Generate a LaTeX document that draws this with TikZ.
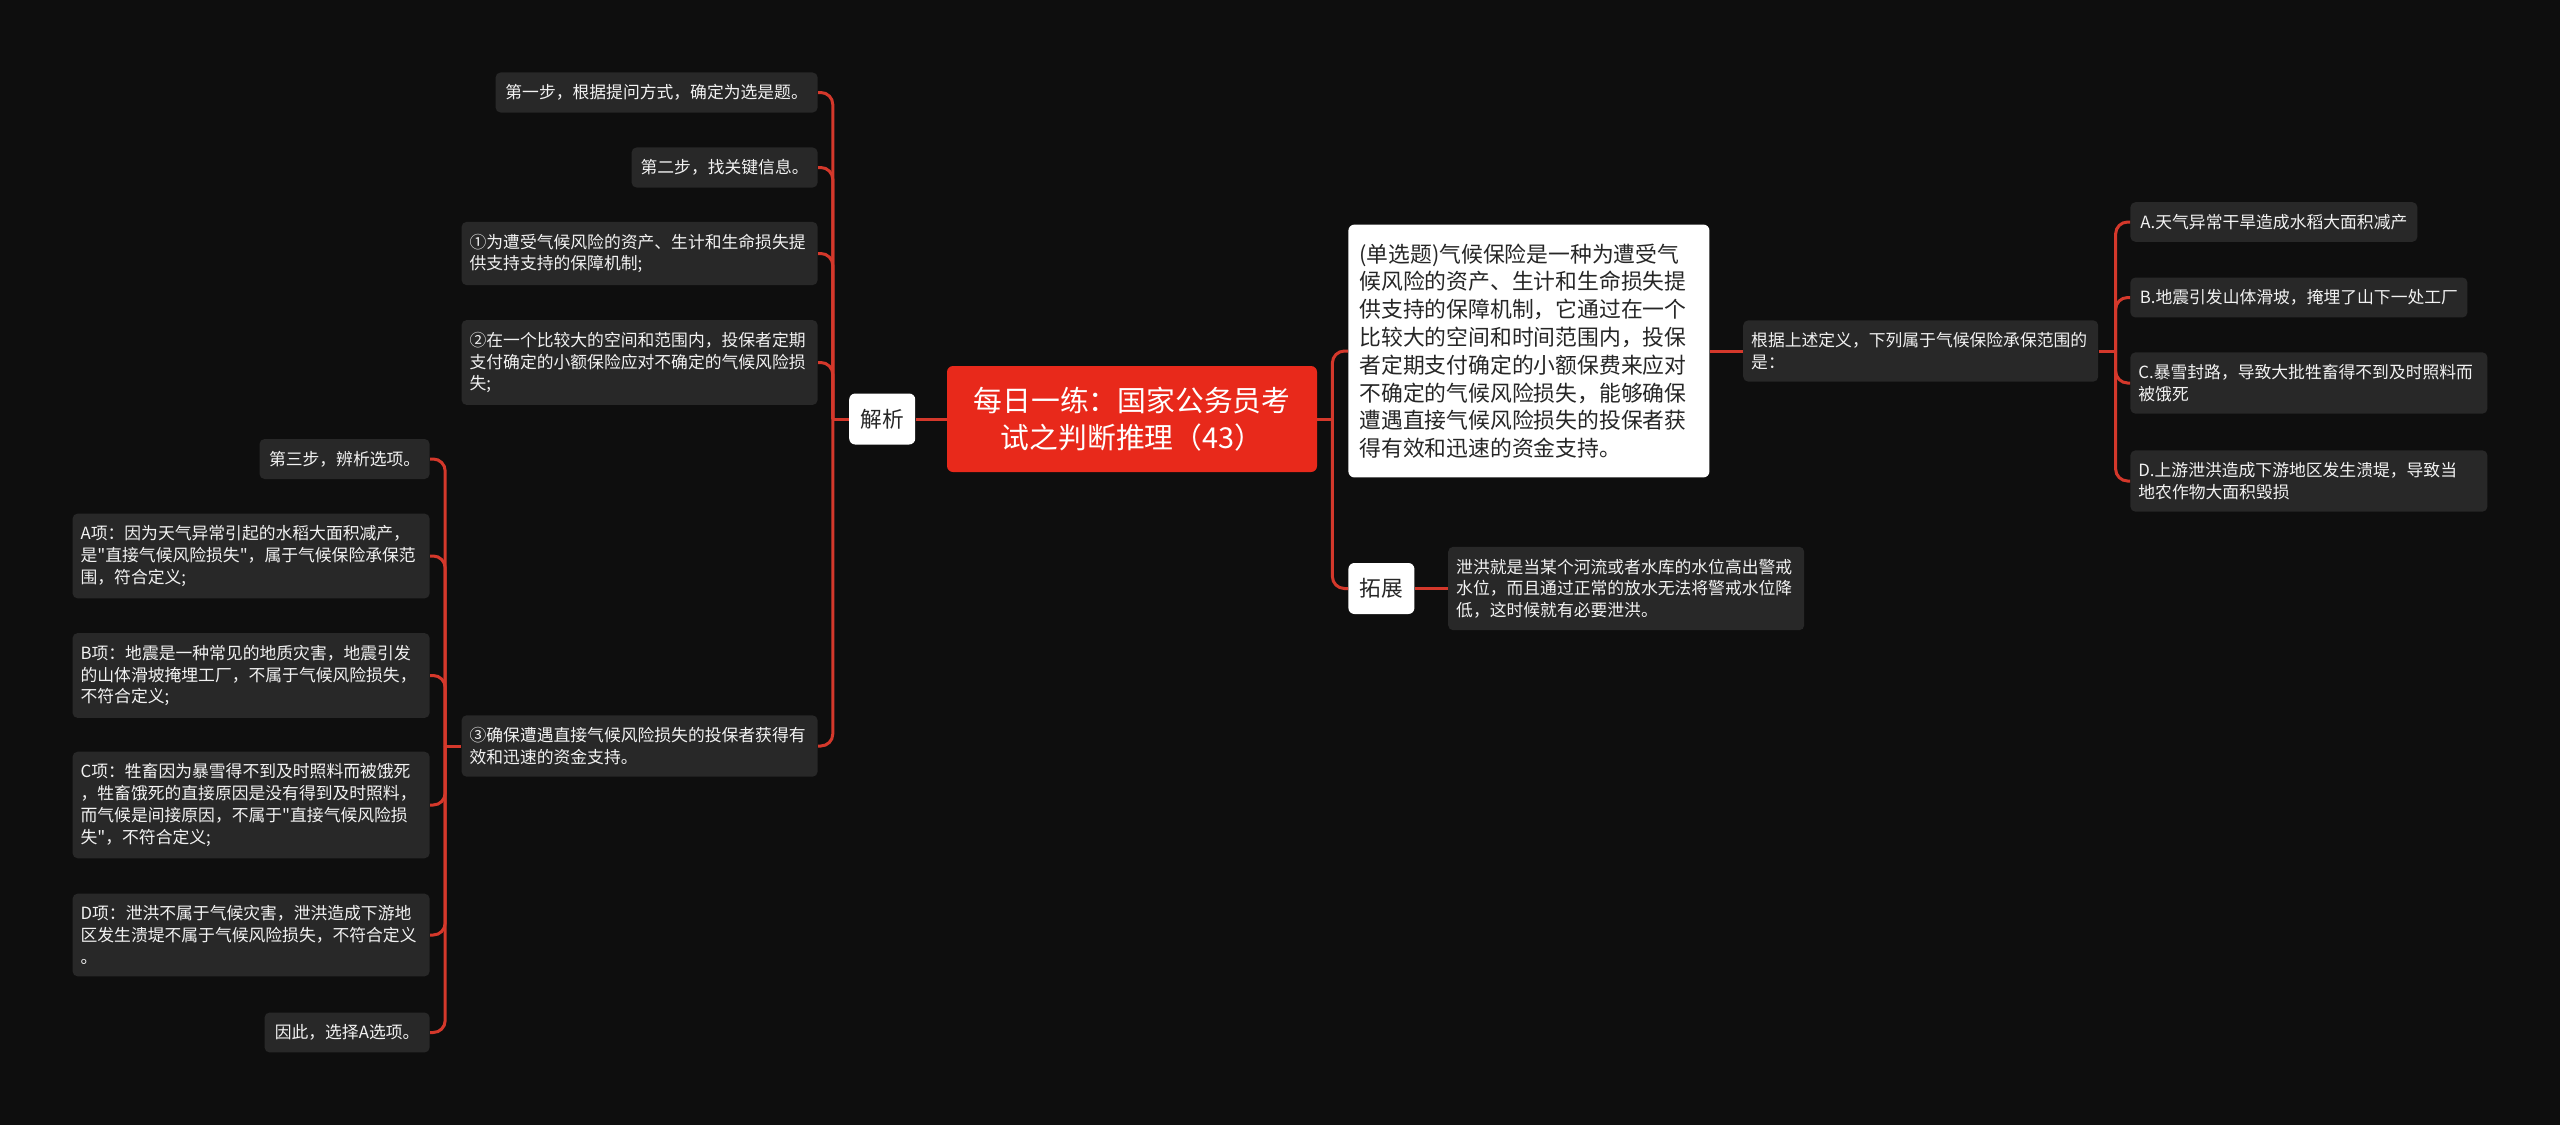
\documentclass[tikz,border=0pt]{standalone}
\usepackage{fontspec}
\setmainfont{Noto Sans CJK SC}[Ligatures=TeXOff]
\usetikzlibrary{positioning}
\definecolor{bgdark}{HTML}{0E0E0E}
\definecolor{leafgray}{HTML}{282828}
\definecolor{leafink}{HTML}{F2F2F2}
\definecolor{rootred}{HTML}{E8291B}
\definecolor{linkred}{HTML}{D4382B}
\definecolor{tagink}{HTML}{262626}

\begin{document}
\begin{tikzpicture}[
    x=0.5pt, y=-0.5pt,
    leaf/.style={fill=leafgray, text=leafink, rounded corners=2.5pt, inner xsep=4pt, inner ysep=6pt, align=left, font=\fontsize{8.4}{10.85}\selectfont},
    topic/.style={fill=rootred, text=white, rounded corners=3pt, minimum width=185pt, minimum height=53pt, align=center, font=\fontsize{14.4}{18.5}\selectfont},
    tag/.style={fill=white, text=tagink, rounded corners=3pt, minimum width=33pt, minimum height=25.5pt, inner sep=0pt, font=\fontsize{10.85}{13}\selectfont},
    stem/.style={fill=white, text=tagink, rounded corners=3pt, inner xsep=5.5pt, inner ysep=9.5pt, text width=169.5pt, align=left, font=\fontsize{10.9}{13.9}\selectfont},
    link/.style={draw=linkred, line width=1.5pt, rounded corners=6pt}
]
\useasboundingbox (0,0) rectangle (2560,1125);
\fill[bgdark] (0,0) rectangle (2560,1125);

% Title
\node[topic] (title) at (1132,419) {每日一练：国家公务员考\\试之判断推理（43）};

% Analysis branch
\node[tag, left=15.5pt of title] (parse) {解析};
\node[leaf, anchor=east, minimum width=161pt] (step1) at (818,92.5) {第一步，根据提问方式，确定为选是题。};
\node[leaf, anchor=east, minimum width=93pt] (step2) at (818,167.5) {第二步，找关键信息。};
\node[leaf, anchor=east, text width=170pt] (key1) at (818,253.5) {①为遭受气候风险的资产、生计和生命损失提\\供支持支持的保障机制;};
\node[leaf, anchor=east, text width=170pt] (key2) at (818,362.5) {②在一个比较大的空间和范围内，投保者定期\\支付确定的小额保险应对不确定的气候风险损\\失;};
\node[leaf, anchor=east, text width=170pt] (key3) at (818,746) {③确保遭遇直接气候风险损失的投保者获得有\\效和迅速的资金支持。};

% Options under key 3
\node[leaf, anchor=east, minimum width=85pt] (step3) at (430,459) {第三步，辨析选项。};
\node[leaf, anchor=east, text width=170.5pt] (optA) at (430,556) {A项：因为天气异常引起的水稻大面积减产，\\是"直接气候风险损失"，属于气候保险承保范\\围，符合定义;};
\node[leaf, anchor=east, text width=170.5pt] (optB) at (430,675.5) {B项：地震是一种常见的地质灾害，地震引发\\的山体滑坡掩埋工厂，不属于气候风险损失，\\不符合定义;};
\node[leaf, anchor=east, text width=170.5pt] (optC) at (430,805) {C项：牲畜因为暴雪得不到及时照料而被饿死\\，牲畜饿死的直接原因是没有得到及时照料，\\而气候是间接原因，不属于"直接气候风险损\\失"，不符合定义;};
\node[leaf, anchor=east, text width=170.5pt] (optD) at (430,935) {D项：泄洪不属于气候灾害，泄洪造成下游地\\区发生溃堤不属于气候风险损失，不符合定义\\。};
\node[leaf, anchor=east, minimum width=82.5pt] (answer) at (430,1032.5) {因此，选择A选项。};

% Question branch
\node[stem, anchor=west] (question) at (1348,351) {(单选题)气候保险是一种为遭受气\\候风险的资产、生计和生命损失提\\供支持的保障机制，它通过在一个\\比较大的空间和时间范围内，投保\\者定期支付确定的小额保费来应对\\不确定的气候风险损失，能够确保\\遭遇直接气候风险损失的投保者获\\得有效和迅速的资金支持。};
\node[leaf, right=16.5pt of question, text width=169.5pt] (ask) {根据上述定义，下列属于气候保险承保范围的\\是：};
\node[leaf, anchor=west, minimum width=143.5pt] (choiceA) at (2130,222) {A.天气异常干旱造成水稻大面积减产};
\node[leaf, anchor=west, minimum width=168.5pt] (choiceB) at (2130,297.5) {B.地震引发山体滑坡，掩埋了山下一处工厂};
\node[leaf, anchor=west, text width=170.5pt] (choiceC) at (2130,383) {C.暴雪封路，导致大批牲畜得不到及时照料而\\被饿死};
\node[leaf, anchor=west, text width=170.5pt] (choiceD) at (2130,481) {D.上游泄洪造成下游地区发生溃堤，导致当\\地农作物大面积毁损};

% Extension branch
\node[tag, anchor=west] (expand) at (1348,588.5) {拓展};
\node[leaf, right=16.5pt of expand, text width=170pt] (flood) {泄洪就是当某个河流或者水库的水位高出警戒\\水位，而且通过正常的放水无法将警戒水位降\\低，这时候就有必要泄洪。};

% Links
\draw[link] (title.west) -- (parse.east);
\draw[link] (parse.west) -- ++(-8pt,0) coordinate (parsefork);
\draw[link] (parsefork) |- (step1.east);
\draw[link] (parsefork) |- (step2.east);
\draw[link] (parsefork) |- (key1.east);
\draw[link] (parsefork) |- (key2.east);
\draw[link] (parsefork) |- (key3.east);

\draw[link] (key3.west) -- ++(-8pt,0) coordinate (keyfork);
\draw[link] (keyfork) |- (step3.east);
\draw[link] (keyfork) |- (optA.east);
\draw[link] (keyfork) |- (optB.east);
\draw[link] (keyfork) |- (optC.east);
\draw[link] (keyfork) |- (optD.east);
\draw[link] (keyfork) |- (answer.east);

\draw[link] (title.east) -- ++(7.5pt,0) coordinate (titlefork);
\draw[link] (titlefork) |- (question.west);
\draw[link] (titlefork) |- (expand.west);
\draw[link] (question.east) -- (ask.west);
\draw[link] (expand.east) -- (flood.west);

\draw[link] (ask.east) -- ++(8.5pt,0) coordinate (askfork);
\draw[link] (askfork) |- (choiceA.west);
\draw[link] (askfork) |- (choiceB.west);
\draw[link] (askfork) |- (choiceC.west);
\draw[link] (askfork) |- (choiceD.west);

\end{tikzpicture}
\end{document}
